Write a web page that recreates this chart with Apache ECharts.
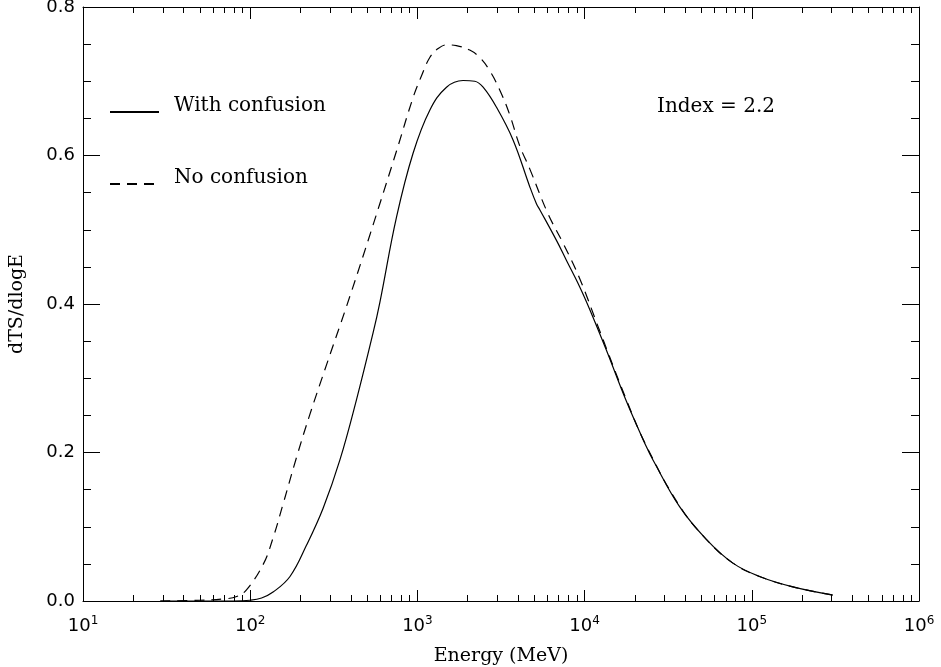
<!DOCTYPE html>
<html><head><meta charset="utf-8">
<script src="https://cdn.jsdelivr.net/npm/echarts@6/dist/echarts.min.js"></script>
<style>html,body{margin:0;padding:0;background:#fff}#c{width:941px;height:667px}</style>
</head><body><div id="c"></div>
<script>
// Energy (MeV) and dTS/dlogE
const energyWith = [29, 50, 79, 100, 117, 137, 173, 217, 273, 344, 432, 543, 596, 750, 942, 1186, 1493, 1875, 2203, 2472, 2972, 3733, 4699, 5152, 5395, 6776, 7780, 9354, 10765, 13490, 17783, 23388, 25645, 36983, 53456, 77090, 111173, 176198, 305492];
const tsWith     = [0.0, 0.0, 0.0, 0.001, 0.004, 0.012, 0.033, 0.075, 0.125, 0.190, 0.271, 0.361, 0.402, 0.517, 0.603, 0.661, 0.692, 0.701, 0.700, 0.692, 0.665, 0.621, 0.558, 0.535, 0.527, 0.486, 0.459, 0.423, 0.392, 0.338, 0.269, 0.208, 0.190, 0.127, 0.083, 0.051, 0.033, 0.019, 0.008];
const energyNo   = [29, 50, 71, 83, 95, 120, 137, 157, 189, 228, 286, 377, 474, 596, 750, 942, 1057, 1186, 1330, 1493, 1710, 2056, 2360, 2710, 3112, 3565, 4093, 4699, 6026, 7430, 9354, 12303, 17783, 23388, 36983, 53456, 77090, 111173, 176198, 305492];
const tsNo       = [0.0, 0.001, 0.003, 0.006, 0.015, 0.050, 0.085, 0.130, 0.193, 0.252, 0.318, 0.397, 0.465, 0.535, 0.606, 0.678, 0.707, 0.732, 0.744, 0.749, 0.748, 0.742, 0.732, 0.714, 0.688, 0.655, 0.613, 0.582, 0.522, 0.482, 0.434, 0.364, 0.271, 0.209, 0.128, 0.083, 0.051, 0.033, 0.019, 0.008];
const seriesNames = ['With confusion', 'No confusion'];
const xMajorTicks = [10, 100, 1000, 10000, 100000, 1000000];
const xMinorMultipliers = [2, 3, 4, 5, 6, 7, 8, 9];
const yTickLabels = ['0.0', '0.2', '0.4', '0.6', '0.8'];
const annotation = 'Index = 2.2';

const xMinorTicks = [];
xMajorTicks.slice(0, -1).forEach(d => xMinorMultipliers.forEach(m => xMinorTicks.push(d * m)));

const serif = 'DejaVu Serif';
const sans = 'DejaVu Sans';
const black = '#000';

function pairs(xs, ys) { return xs.map((x, i) => [x, ys[i]]); }

const baseX = {
  type: 'log', logBase: 10, min: 10, max: 1000000,
  splitLine: { show: false }, axisPointer: { show: false }
};

function legendFor(name, top) {
  return {
    data: [name], orient: 'vertical', left: 109, top: top, padding: 0,
    itemWidth: 49, itemHeight: 14,
    itemStyle: { color: 'rgba(0,0,0,0)', borderWidth: 0, opacity: 0 },
    formatter: n => '{t|' + n + '}',
    textStyle: {
      fontFamily: serif, fontSize: 20, color: black,
      rich: { t: { fontFamily: serif, fontSize: 20, color: black, lineHeight: 20, padding: [0, 0, 12, 10] } }
    }
  };
}

const chart = echarts.init(document.getElementById('c'), null, { renderer: 'canvas' });
chart.setOption({
  animation: false,
  backgroundColor: '#fff',
  grid: { left: 83, right: 22, top: 7, bottom: 66, containLabel: false, outerBoundsMode: 'none' },
  title: {
    text: annotation, left: 657, top: 97, padding: 0,
    textStyle: { fontFamily: serif, fontSize: 20, fontWeight: 'normal', color: black }
  },
  legend: [legendFor(seriesNames[0], 96), legendFor(seriesNames[1], 168)],
  xAxis: [
    Object.assign({}, baseX, {
      position: 'bottom',
      name: 'Energy (MeV)', nameLocation: 'middle', nameGap: 46,
      nameTextStyle: { fontFamily: serif, fontSize: 19, color: black },
      axisLine: { show: true, lineStyle: { color: black, width: 1 } },
      axisTick: { show: true, inside: true, length: 11, customValues: xMajorTicks, lineStyle: { color: black } },
      axisLabel: {
        show: true, margin: 14, customValues: xMajorTicks,
        formatter: v => '{b|10}{s|' + Math.round(Math.log10(v)) + '}',
        rich: {
          b: { fontFamily: sans, fontSize: 18, color: black, lineHeight: 22 },
          s: { fontFamily: sans, fontSize: 12, color: black, verticalAlign: 'top', lineHeight: 12 }
        }
      }
    }),
    Object.assign({}, baseX, {
      position: 'bottom',
      axisLine: { show: false },
      axisTick: { show: true, inside: true, length: 6, customValues: xMinorTicks, lineStyle: { color: black } },
      axisLabel: { show: false }
    }),
    Object.assign({}, baseX, {
      position: 'top',
      axisLine: { show: true, lineStyle: { color: black, width: 1 } },
      axisTick: { show: true, inside: true, length: 12, customValues: xMajorTicks, lineStyle: { color: black } },
      axisLabel: { show: false }
    }),
    Object.assign({}, baseX, {
      position: 'top',
      axisLine: { show: false },
      axisTick: { show: true, inside: true, length: 6, customValues: xMinorTicks, lineStyle: { color: black } },
      axisLabel: { show: false }
    })
  ],
  yAxis: [
    {
      type: 'value', position: 'left', min: 0, max: 0.8, interval: 0.2,
      name: 'dTS/dlogE', nameLocation: 'middle', nameGap: 56, nameRotate: 90,
      nameTextStyle: { fontFamily: serif, fontSize: 19, color: black },
      axisLine: { show: true, lineStyle: { color: black, width: 1 } },
      axisTick: { show: true, inside: true, length: 17, lineStyle: { color: black } },
      minorTick: { show: true, splitNumber: 4, length: 8, lineStyle: { color: black } },
      splitLine: { show: false },
      axisLabel: {
        margin: 8, fontFamily: sans, fontSize: 18, color: black,
        formatter: v => yTickLabels[Math.round(v / 0.2)]
      }
    },
    {
      type: 'value', position: 'right', min: 0, max: 0.8, interval: 0.2,
      axisLine: { show: true, lineStyle: { color: black, width: 1 } },
      axisTick: { show: true, inside: true, length: 17, lineStyle: { color: black } },
      minorTick: { show: true, splitNumber: 4, length: 8, lineStyle: { color: black } },
      splitLine: { show: false },
      axisLabel: { show: false }
    }
  ],
  series: [
    {
      name: seriesNames[0], type: 'line', xAxisIndex: 0, yAxisIndex: 0,
      data: pairs(energyWith, tsWith), smooth: 0.4, symbol: 'none', showSymbol: false,
      lineStyle: { color: black, width: 1.2, type: 'solid' }, itemStyle: { color: black }
    },
    {
      name: seriesNames[1], type: 'line', xAxisIndex: 0, yAxisIndex: 0,
      data: pairs(energyNo, tsNo), smooth: 0.4, symbol: 'none', showSymbol: false,
      lineStyle: { color: black, width: 1.2, type: [10, 7] }, itemStyle: { color: black }
    }
  ]
});
</script>
</body></html>
